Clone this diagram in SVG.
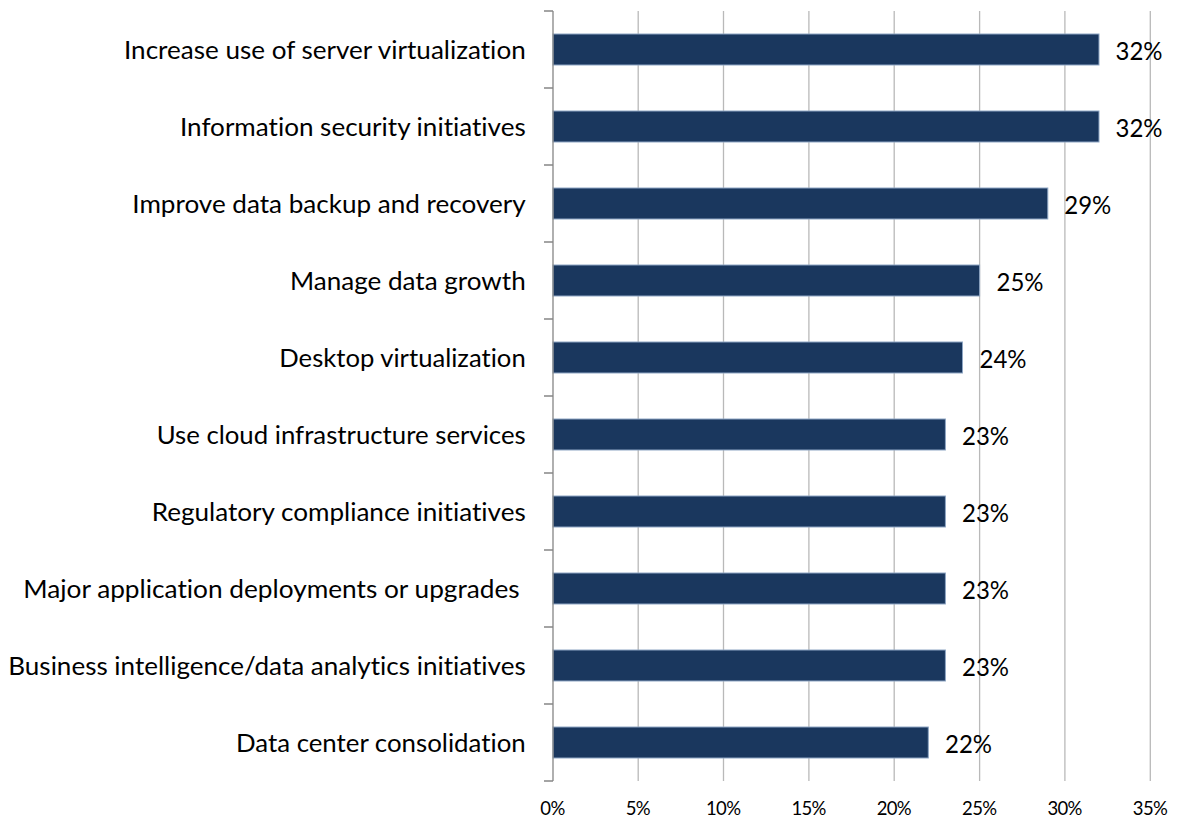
<svg xmlns="http://www.w3.org/2000/svg" width="1177" height="821" viewBox="0 0 1177 821">
<style>
text{font-variant-ligatures:none;font-feature-settings:"liga" 0,"dlig" 0}
.cat{font-family:Lato,"Liberation Sans",sans-serif;font-size:25.5px;fill:#000;text-anchor:end}
.val{font-family:Lato,"Liberation Sans",sans-serif;font-size:25.5px;fill:#000}
.ax{font-family:Lato,"Liberation Sans",sans-serif;font-size:18.5px;fill:#000;text-anchor:middle}
.bar{fill:#1a375e;stroke:#8ea6c4;stroke-width:1}
.grid{stroke:#b9b9b9;stroke-width:1.3}
.axis{stroke:#868686;stroke-width:1.3;fill:none}
</style>
<rect width="1177" height="821" fill="#fff"/>
<g id="gridlines">
<line class="grid" x1="638.2" y1="11" x2="638.2" y2="781"/>
<line class="grid" x1="723.5" y1="11" x2="723.5" y2="781"/>
<line class="grid" x1="808.9" y1="11" x2="808.9" y2="781"/>
<line class="grid" x1="894.2" y1="11" x2="894.2" y2="781"/>
<line class="grid" x1="979.6" y1="11" x2="979.6" y2="781"/>
<line class="grid" x1="1064.9" y1="11" x2="1064.9" y2="781"/>
<line class="grid" x1="1150.3" y1="11" x2="1150.3" y2="781"/>
</g>
<g id="x-axis-labels">
<text class="ax" x="552.8" y="815" textLength="25">0%</text>
<text class="ax" x="638.2" y="815" textLength="25">5%</text>
<text class="ax" x="723.5" y="815" textLength="35">10%</text>
<text class="ax" x="808.9" y="815" textLength="35">15%</text>
<text class="ax" x="894.2" y="815" textLength="35">20%</text>
<text class="ax" x="979.6" y="815" textLength="35">25%</text>
<text class="ax" x="1064.9" y="815" textLength="35">30%</text>
<text class="ax" x="1150.3" y="815" textLength="35">35%</text>
</g>
<g id="row1">
<text class="cat" x="525.7" y="58.5" textLength="401.7" lengthAdjust="spacingAndGlyphs">Increase use of server virtualization</text>
<rect class="bar" x="553" y="34" width="546" height="31"/>
<text class="val" x="1115.5" y="59.5" textLength="47" lengthAdjust="spacingAndGlyphs">32%</text>
</g>
<g id="row2">
<text class="cat" x="525.7" y="135.5" textLength="345.7" lengthAdjust="spacingAndGlyphs">Information security initiatives</text>
<rect class="bar" x="553" y="111" width="546" height="31"/>
<text class="val" x="1115.5" y="136.5" textLength="47" lengthAdjust="spacingAndGlyphs">32%</text>
</g>
<g id="row3">
<text class="cat" x="525.7" y="212.5" textLength="393.4" lengthAdjust="spacingAndGlyphs">Improve data backup and recovery</text>
<rect class="bar" x="553" y="188" width="494.8" height="31"/>
<text class="val" x="1064.3" y="213.5" textLength="47" lengthAdjust="spacingAndGlyphs">29%</text>
</g>
<g id="row4">
<text class="cat" x="525.7" y="289.5" textLength="235.7" lengthAdjust="spacingAndGlyphs">Manage data growth</text>
<rect class="bar" x="553" y="265" width="426.6" height="31"/>
<text class="val" x="996.5" y="290.5" textLength="47" lengthAdjust="spacingAndGlyphs">25%</text>
</g>
<g id="row5">
<text class="cat" x="525.7" y="366.5" textLength="246.4" lengthAdjust="spacingAndGlyphs">Desktop virtualization</text>
<rect class="bar" x="553" y="342" width="409.5" height="31"/>
<text class="val" x="979.5" y="367.5" textLength="47" lengthAdjust="spacingAndGlyphs">24%</text>
</g>
<g id="row6">
<text class="cat" x="525.7" y="443.5" textLength="369" lengthAdjust="spacingAndGlyphs">Use cloud infrastructure services</text>
<rect class="bar" x="553" y="419" width="392.4" height="31"/>
<text class="val" x="962" y="444.5" textLength="47" lengthAdjust="spacingAndGlyphs">23%</text>
</g>
<g id="row7">
<text class="cat" x="525.7" y="520.5" textLength="374" lengthAdjust="spacingAndGlyphs">Regulatory compliance initiatives</text>
<rect class="bar" x="553" y="496" width="392.4" height="31"/>
<text class="val" x="962" y="521.5" textLength="47" lengthAdjust="spacingAndGlyphs">23%</text>
</g>
<g id="row8">
<text class="cat" x="519.7" y="597.5" textLength="496.4" lengthAdjust="spacingAndGlyphs">Major application deployments or upgrades</text>
<rect class="bar" x="553" y="573" width="392.4" height="31"/>
<text class="val" x="962" y="598.5" textLength="47" lengthAdjust="spacingAndGlyphs">23%</text>
</g>
<g id="row9">
<text class="cat" x="525.7" y="674.5" textLength="517.4" lengthAdjust="spacingAndGlyphs">Business intelligence/data analytics initiatives</text>
<rect class="bar" x="553" y="650" width="392.4" height="31"/>
<text class="val" x="962" y="675.5" textLength="47" lengthAdjust="spacingAndGlyphs">23%</text>
</g>
<g id="row10">
<text class="cat" x="525.7" y="751.5" textLength="289.7" lengthAdjust="spacingAndGlyphs">Data center consolidation</text>
<rect class="bar" x="553" y="727" width="375.3" height="31"/>
<text class="val" x="945" y="752.5" textLength="47" lengthAdjust="spacingAndGlyphs">22%</text>
</g>
<g id="y-axis">
<path class="axis" d="M553,11 V781 M544,11 H553 M544,88 H553 M544,165 H553 M544,242 H553 M544,319 H553 M544,396 H553 M544,473 H553 M544,550 H553 M544,627 H553 M544,704 H553 M544,781 H553"/>
</g>
</svg>
